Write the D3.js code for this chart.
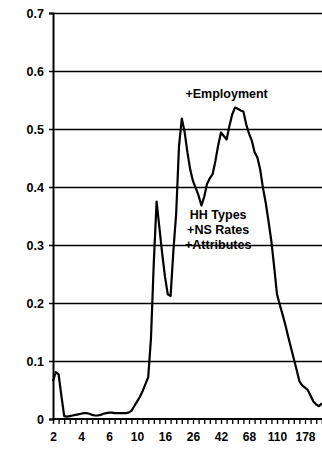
<!DOCTYPE html>
<html>
<head>
<meta charset="utf-8">
<script src="https://cdn.jsdelivr.net/npm/d3@7/dist/d3.min.js"></script>
<style>
  html, body { margin: 0; padding: 0; background: #fff; }
  svg { display: block; }
  text { font-family: "Liberation Sans", Arial, sans-serif; font-weight: bold; fill: #000; }
</style>
</head>
<body>
<svg id="chart" width="322" height="449"></svg>
<script>
// Category labels along the x axis (one label every 10 sample positions)
const xLabels = ["2", "4", "6", "10", "16", "26", "42", "68", "110", "178"];
const labelStep = 10;
const tickStep = 2;

// Y axis tick values
const yTicks = [0, 0.1, 0.2, 0.3, 0.4, 0.5, 0.6, 0.7];

// Measured series, one value per sample position
const values = [
  0.065, 0.081, 0.077, 0.040, 0.005, 0.004, 0.005, 0.006, 0.007, 0.008,
  0.009, 0.010, 0.010, 0.009, 0.007, 0.006, 0.006, 0.007, 0.009, 0.010,
  0.011, 0.011, 0.010, 0.010, 0.010, 0.010, 0.010, 0.011, 0.014, 0.022,
  0.030, 0.038, 0.048, 0.060, 0.072, 0.140, 0.270, 0.375, 0.330, 0.285,
  0.245, 0.215, 0.212, 0.290, 0.355, 0.470, 0.518, 0.495, 0.460, 0.430,
  0.410, 0.398, 0.385, 0.368, 0.383, 0.405, 0.415, 0.422, 0.445, 0.472,
  0.494, 0.488, 0.482, 0.505, 0.525, 0.537, 0.535, 0.532, 0.530, 0.508,
  0.492, 0.480, 0.460, 0.451, 0.430, 0.398, 0.372, 0.340, 0.306, 0.262,
  0.215, 0.197, 0.180, 0.162, 0.142, 0.123, 0.104, 0.085, 0.065, 0.058,
  0.054, 0.050, 0.040, 0.030, 0.025, 0.022, 0.027
];

// Annotations placed in data space: [sample position, value, text lines]
const notes = [
  { pos: 62, val: 0.553, lines: ["+Employment"] },
  { pos: 59, val: 0.344, lines: ["HH Types", "+NS Rates", "+Attributes"] }
];

const svg = d3.select("#chart");
const margin = { left: 53, top: 13, bottom: 30 };
const H = 449;
const plotBottom = H - margin.bottom; // 419

const x = d3.scaleLinear().domain([0, 100]).range([margin.left, margin.left + 280]);
const y = d3.scaleLinear().domain([0, 0.7]).range([plotBottom, margin.top]);

// Horizontal gridlines
svg.append("g")
  .selectAll("line")
  .data(yTicks.filter(d => d > 0))
  .join("line")
  .attr("x1", margin.left).attr("x2", 330)
  .attr("y1", d => Math.round(y(d)) + 0.5).attr("y2", d => Math.round(y(d)) + 0.5)
  .attr("stroke", "#000").attr("stroke-width", 1.3);

// Y axis
const yAxis = svg.append("g")
  .attr("transform", `translate(${margin.left},0)`)
  .call(d3.axisLeft(y).tickValues(yTicks).tickSize(4).tickPadding(5)
    .tickFormat(d => d === 0 ? "0" : d3.format(".1f")(d)));
yAxis.select(".domain").attr("stroke-width", 2);
yAxis.selectAll(".tick line").attr("stroke-width", 1.5);
yAxis.selectAll(".tick text").style("font-size", "12.5px");

// X axis
const tickVals = d3.range(0, 100, tickStep);
const xAxis = svg.append("g")
  .attr("transform", `translate(0,${plotBottom})`)
  .call(d3.axisBottom(x).tickValues(tickVals).tickSize(5).tickPadding(8)
    .tickFormat(d => d % labelStep === 0 && xLabels[d / labelStep] !== undefined ? xLabels[d / labelStep] : ""));
xAxis.select(".domain").attr("stroke-width", 2).attr("d", `M${margin.left},0H330`);
xAxis.selectAll(".tick line").attr("stroke-width", 1.3);
xAxis.selectAll(".tick text").style("font-size", "12px");

// Series line
const line = d3.line()
  .x((d, i) => x(i))
  .y(d => y(d));
svg.append("path")
  .datum(values)
  .attr("d", line)
  .attr("fill", "none")
  .attr("stroke", "#000")
  .attr("stroke-width", 2.2)
  .attr("stroke-linejoin", "round");

// Annotations
notes.forEach(n => {
  const t = svg.append("text")
    .attr("x", x(n.pos))
    .attr("y", y(n.val))
    .attr("text-anchor", "middle")
    .style("font-size", "12.5px");
  n.lines.forEach((s, k) => {
    t.append("tspan").attr("x", x(n.pos)).attr("dy", k === 0 ? 0 : 15).text(s);
  });
});
</script>
</body>
</html>
